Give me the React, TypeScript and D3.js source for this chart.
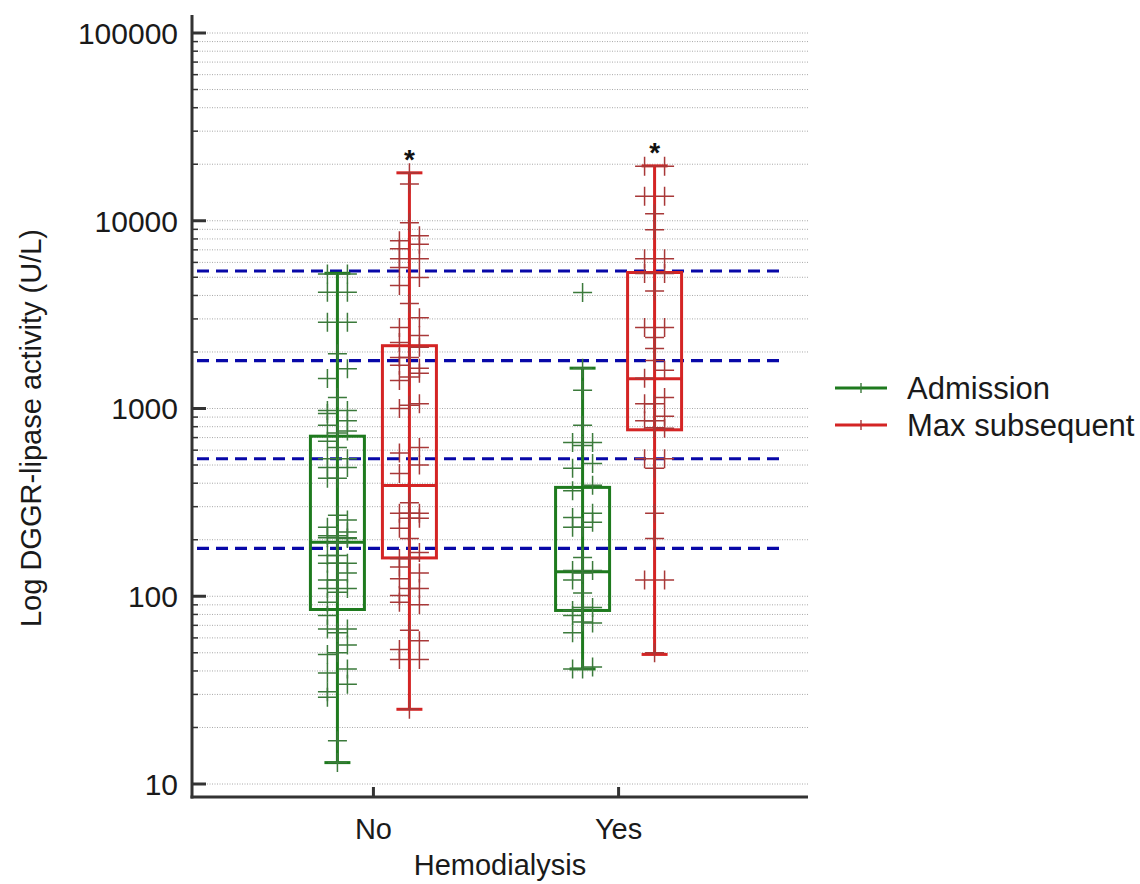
import React from 'react';
import * as d3 from 'd3';

// categories and series
const categories = ['No', 'Yes'];
const seriesNames = ['Admission', 'Max subsequent'];
const seriesColors = ['#1e7a1e', '#d42424'];
const pointColors = ['#3b7a3b', '#a83838'];

// box stats: [low whisker, q1, median, q3, high whisker]
const noAdmissionStats = [13, 85, 194, 712, 5250];
const noMaxStats = [25, 160, 389, 2160, 18000];
const yesAdmissionStats = [41, 84, 135, 380, 1640];
const yesMaxStats = [49, 770, 1440, 5300, 19600];

// individual points and their jitter lane (-1 left, 0 centre, 1 right)
const noAdmissionValues = [5200, 5200, 4160, 4160, 2880, 2880, 1960, 1630, 1445, 1145, 975, 975, 940, 860, 815, 760, 740, 670, 620, 540, 540, 485, 485, 425, 425, 270, 255, 233, 220, 205, 205, 205, 193, 210, 210, 203, 165, 165, 150, 150, 150, 133, 122, 122, 110, 110, 105, 93, 79, 67, 67, 64, 55, 50, 49, 41, 39, 34, 31, 29, 17, 13];
const noAdmissionLanes = [-1, 1, -1, 1, -1, 1, 0, 1, -1, 0, -1, 1, -1, 1, -1, 1, 0, -1, 0, -1, 1, -1, 1, -1, 0, 0, 1, -1, 1, -1, 0, 1, 0, -1, 0, 1, -1, 0, -1, 0, 1, 1, -1, 0, -1, 1, 0, -1, -1, -1, 1, 0, 1, 0, -1, 1, -1, 1, -1, -1, 0, 0];

const noMaxValues = [18000, 15700, 9760, 8320, 7830, 7500, 7100, 6280, 6280, 5630, 4980, 4520, 3620, 3040, 2700, 2450, 2250, 2120, 1870, 1870, 1700, 1640, 1540, 1470, 1410, 1000, 1040, 1060, 620, 580, 500, 450, 315, 277, 277, 277, 260, 260, 230, 203, 171, 159, 159, 143, 133, 124, 110, 110, 101, 93, 90, 66, 58, 52, 46, 46, 25];
const noMaxLanes = [0, 0, 0, 1, -1, 1, -1, -1, 1, -1, 1, -1, 0, 1, -1, 1, -1, 1, -1, 0, -1, 1, 1, 0, -1, -1, 0, 1, 1, -1, 1, -1, 0, -1, 0, 1, 0, 1, -1, 0, 1, -1, 0, -1, 1, -1, 1, 0, -1, -1, 1, 0, 1, -1, -1, 1, 0];

const yesAdmissionValues = [4150, 1640, 1250, 815, 660, 660, 635, 510, 480, 390, 365, 277, 263, 248, 233, 233, 161, 137, 137, 133, 122, 104, 87, 87, 84, 79, 73, 72, 64, 42, 41, 41];
const yesAdmissionLanes = [0, 0, 0, 0, -1, 1, 0, 1, -1, 1, -1, 1, -1, 1, -1, 0, 0, -1, 1, 0, -1, 0, 1, 0, -1, -1, 0, 1, -1, 1, -1, 0];

const yesMaxValues = [19500, 19500, 13500, 13500, 10900, 8950, 6280, 6280, 5230, 5230, 4220, 2700, 2700, 2390, 2090, 1800, 1600, 1450, 1145, 1060, 1060, 910, 860, 860, 785, 790, 540, 540, 480, 277, 203, 122, 122, 50];
const yesMaxLanes = [-1, 1, -1, 1, 0, 0, -1, 1, -1, 1, 0, -1, 1, 0, 0, 0, 1, -1, 1, -1, 0, 1, -1, 0, 1, 0, -1, 1, 0, 0, 0, -1, 1, 0];

// reference (cut-off) lines
const refLines = [180, 540, 1800, 5400];
const yTickValues = [10, 100, 1000, 10000, 100000];
const significant = [true, true];

const groups = [
  { cat: 'No', s: 0, stats: noAdmissionStats, values: noAdmissionValues, lanes: noAdmissionLanes },
  { cat: 'No', s: 1, stats: noMaxStats, values: noMaxValues, lanes: noMaxLanes },
  { cat: 'Yes', s: 0, stats: yesAdmissionStats, values: yesAdmissionValues, lanes: yesAdmissionLanes },
  { cat: 'Yes', s: 1, stats: yesMaxStats, values: yesMaxValues, lanes: yesMaxLanes },
];

const font = '"Liberation Sans", Arial, sans-serif';

const App = () => {
  const width = 1140;
  const height = 884;
  const left = 192;
  const right = 808;
  const top = 15;
  const bottom = 797;

  const y = d3.scaleLog().domain([10, 100000]).range([784, 33]);
  const x = d3.scalePoint<string>().domain(categories).range([left, 800]).padding(0.74);
  const sub = d3.scaleBand<string>().domain(seriesNames).range([-72, 72]);
  const boxW = 54;
  const capW = 26;
  const laneStep = 10;
  const arm = 9.5;

  const gridValues: number[] = [];
  for (let d = 10; d < 100000; d *= 10) {
    for (let k = 1; k <= 9; k++) gridValues.push(d * k);
  }
  gridValues.push(100000);

  return (
    <svg width={width} height={height} style={{ position: 'absolute', left: 0, top: 0, background: '#fff' }} fontFamily={font}>
      {/* grid */}
      {gridValues.map((v, i) => (
        <line key={'g' + i} x1={left} x2={right} y1={y(v)} y2={y(v)} stroke="#a8a8a8" strokeWidth={1} strokeDasharray="1,1.5" />
      ))}
      {/* reference lines */}
      {refLines.map((v, i) => (
        <line key={'r' + i} x1={197} x2={781} y1={y(v)} y2={y(v)} stroke="#0808a8" strokeWidth={3.2} strokeDasharray="12,7" />
      ))}

      {/* boxes and points */}
      {groups.map((g, gi) => {
        const cx = (x(g.cat) as number) + (sub(seriesNames[g.s]) as number) + sub.bandwidth() / 2;
        const [lo, q1, med, q3, hi] = g.stats;
        const col = seriesColors[g.s];
        const pcol = pointColors[g.s];
        return (
          <g key={'b' + gi}>
            <line x1={cx} x2={cx} y1={y(hi)} y2={y(lo)} stroke={col} strokeWidth={3} />
            <line x1={cx - capW / 2} x2={cx + capW / 2} y1={y(hi)} y2={y(hi)} stroke={col} strokeWidth={3} />
            <line x1={cx - capW / 2} x2={cx + capW / 2} y1={y(lo)} y2={y(lo)} stroke={col} strokeWidth={3} />
            <rect x={cx - boxW / 2} y={y(q3)} width={boxW} height={y(q1) - y(q3)} fill="none" stroke={col} strokeWidth={3} />
            <line x1={cx - boxW / 2} x2={cx + boxW / 2} y1={y(med)} y2={y(med)} stroke={col} strokeWidth={3} />
            {g.values.map((v, i) => {
              const px = cx + g.lanes[i] * laneStep;
              const py = y(v);
              return (
                <path key={i} d={`M${px - arm},${py}H${px + arm}M${px},${py - arm}V${py + arm}`} stroke={pcol} strokeWidth={1.5} fill="none" />
              );
            })}
            {g.s === 1 && significant[categories.indexOf(g.cat)] && (
              <text x={cx} y={y(hi) - 4} textAnchor="middle" fontSize={28} fontWeight="bold" fill="#111">*</text>
            )}
          </g>
        );
      })}

      {/* axes */}
      <line x1={left} x2={left} y1={top} y2={bottom + 1.5} stroke="#333" strokeWidth={3} />
      <line x1={left - 1.5} x2={right} y1={bottom} y2={bottom} stroke="#333" strokeWidth={3} />
      {gridValues.map((v, i) => {
        const major = yTickValues.includes(v);
        return (
          <line key={'t' + i} x1={left} x2={left + (major ? 14 : 6)} y1={y(v)} y2={y(v)} stroke="#333" strokeWidth={major ? 3 : 1.5} />
        );
      })}
      {yTickValues.map((v, i) => (
        <text key={'yl' + i} x={178} y={y(v)} dy="0.36em" textAnchor="end" fontSize={30} fill="#1a1a1a">{v}</text>
      ))}
      {categories.map((c, i) => (
        <g key={'xc' + i}>
          <line x1={x(c)} x2={x(c)} y1={bottom} y2={bottom - 10} stroke="#333" strokeWidth={3} />
          <text x={x(c)} y={839} textAnchor="middle" fontSize={29} fill="#1a1a1a">{c}</text>
        </g>
      ))}
      <text x={500} y={875} textAnchor="middle" fontSize={29} fill="#1a1a1a">Hemodialysis</text>
      <text transform="translate(41,428) rotate(-90)" textAnchor="middle" fontSize={29} fill="#1a1a1a">Log DGGR-lipase activity (U/L)</text>

      {/* legend */}
      {seriesNames.map((s, i) => {
        const ly = 388 + i * 37;
        return (
          <g key={'l' + i}>
            <line x1={835} x2={887} y1={ly} y2={ly} stroke={seriesColors[i]} strokeWidth={3} />
            <line x1={861} x2={861} y1={ly - 5} y2={ly + 5} stroke={pointColors[i]} strokeWidth={1.4} />
            <text x={907} y={ly} dy="0.36em" fontSize={31} fill="#1a1a1a">{s}</text>
          </g>
        );
      })}
    </svg>
  );
};

export default App;
